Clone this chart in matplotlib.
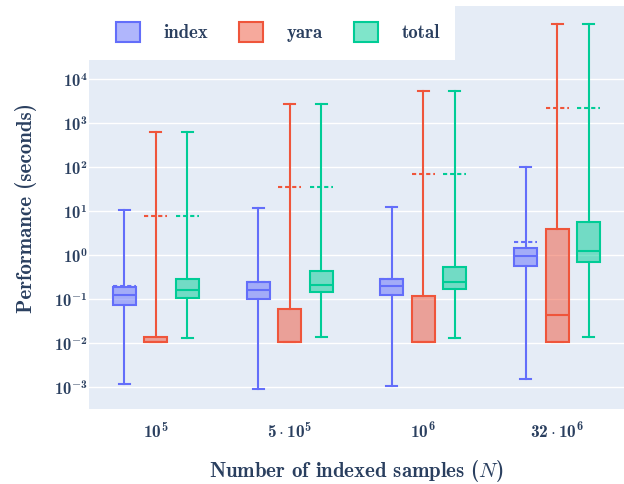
import matplotlib
matplotlib.use("Agg")
import matplotlib.pyplot as plt
import numpy as np
from matplotlib.patches import Patch, Rectangle

# --- Palette (plotly defaults) ------------------------------------------------
BG = "#E5ECF6"
TEXT = "#2a3f5f"
COLORS = {"index": "#636EFA", "yara": "#EF553B", "total": "#00CC96"}

# --- Data (seconds) -----------------------------------------------------------
categories = [r"$\mathbf{10^5}$", r"$\mathbf{5\cdot10^5}$",
              r"$\mathbf{10^6}$", r"$\mathbf{32\cdot10^6}$"]

index_q1 = [0.074, 0.103, 0.125, 0.56]
index_med = [0.126, 0.165, 0.196, 0.95]
index_q3 = [0.19, 0.24, 0.28, 1.47]
index_lo = [0.0012, 0.00089, 0.00107, 0.0015]
index_hi = [10.8, 12.0, 12.8, 99.0]
index_mean = [0.2, 0.25, 0.29, 2.04]

yara_q1 = [0.0104, 0.0104, 0.0104, 0.0103]
yara_med = [0.0108, 0.0108, 0.0108, 0.044]
yara_q3 = [0.0135, 0.061, 0.118, 4.0]
yara_lo = [0.0104, 0.0104, 0.0104, 0.0103]
yara_hi = [620.0, 2750.0, 5500.0, 180000.0]
yara_mean = [7.6, 34.7, 71.0, 2230.0]

total_q1 = [0.105, 0.143, 0.168, 0.69]
total_med = [0.162, 0.214, 0.247, 1.27]
total_q3 = [0.28, 0.43, 0.54, 5.8]
total_lo = [0.013, 0.014, 0.0129, 0.0135]
total_hi = [620.0, 2750.0, 5500.0, 180000.0]
total_mean = [7.9, 34.7, 71.0, 2230.0]

series = {
    "index": (index_q1, index_med, index_q3, index_lo, index_hi, index_mean),
    "yara": (yara_q1, yara_med, yara_q3, yara_lo, yara_hi, yara_mean),
    "total": (total_q1, total_med, total_q3, total_lo, total_hi, total_mean),
}
offsets = {"index": -0.235, "yara": 0.0, "total": 0.235}

plt.rcParams["font.family"] = ["cmb10", "DejaVu Sans"]
plt.rcParams["mathtext.fontset"] = "custom"
plt.rcParams["mathtext.bf"] = "cmb10"
plt.rcParams["mathtext.rm"] = "cmb10"
plt.rcParams["mathtext.it"] = "cmmi10"
plt.rcParams["mathtext.fallback"] = "cm"
plt.rcParams["axes.unicode_minus"] = False

W, H = 624, 484
fig = plt.figure(figsize=(W / 100, H / 100), dpi=100)
ax = fig.add_axes([89 / W, 1 - 409.4 / H, 535 / W, 403.4 / H])
ax.set_facecolor(BG)
for s in ax.spines.values():
    s.set_visible(False)

LW = 1.5
x = np.arange(len(categories))
for name, (q1, med, q3, lo, hi, mean) in series.items():
    c = COLORS[name]
    stats = [dict(q1=a, med=b, q3=d, whislo=e, whishi=f, mean=g, fliers=[])
             for a, b, d, e, f, g in zip(q1, med, q3, lo, hi, mean)]
    ax.bxp(stats, positions=x + offsets[name], widths=0.172, capwidths=0.082,
           patch_artist=True, showmeans=True, meanline=True, showfliers=False,
           manage_ticks=False,
           boxprops=dict(facecolor=(c, 0.5), edgecolor=c, linewidth=LW),
           medianprops=dict(color=c, linewidth=LW),
           whiskerprops=dict(color=c, linewidth=LW),
           capprops=dict(color=c, linewidth=LW),
           meanprops=dict(color=c, linewidth=LW, linestyle=(0, (2.0, 1.4))))

ax.set_yscale("log")
ax.set_ylim(10 ** -3.51, 10 ** 5.67)
ax.set_xlim(-0.5, len(categories) - 0.5)
ax.yaxis.grid(True, color="white", linewidth=1.0)
ax.set_axisbelow(True)
ax.set_yticks([10.0 ** k for k in range(-3, 5)])
ax.set_yticklabels([r"$\mathbf{10^{%d}}$" % k for k in range(-3, 5)])
ax.yaxis.set_minor_locator(matplotlib.ticker.NullLocator())
ax.set_xticks(x)
ax.set_xticklabels(categories)
ax.tick_params(axis="both", length=0, labelsize=12, labelcolor=TEXT)
ax.tick_params(axis="x", labelsize=12.5, pad=8)
ax.tick_params(axis="y", pad=1)

ax.set_ylabel("Performance (seconds)", fontsize=15, color=TEXT, labelpad=12)
ax.set_xlabel(r"Number of indexed samples $(N)$", fontsize=15, color=TEXT,
              labelpad=12)

# legend on a white band over the top-left of the plot area
fig.patches.append(Rectangle((89 / W, 1 - 60 / H), 366 / W, 60 / H,
                             transform=fig.transFigure, facecolor="white",
                             edgecolor="none", zorder=2))
handles = [Patch(facecolor=(COLORS[n], 0.5), edgecolor=COLORS[n], linewidth=LW,
                 label=n) for n in series]
fig.legend(handles=handles, loc="center left", ncol=3, frameon=False,
           bbox_to_anchor=(107 / W, 1 - 32 / H), fontsize=13.5, borderpad=0,
           labelcolor=TEXT, handlelength=1.28, handleheight=1.28,
           handletextpad=1.25, columnspacing=1.65)

fig.savefig("out.png", dpi=100)
